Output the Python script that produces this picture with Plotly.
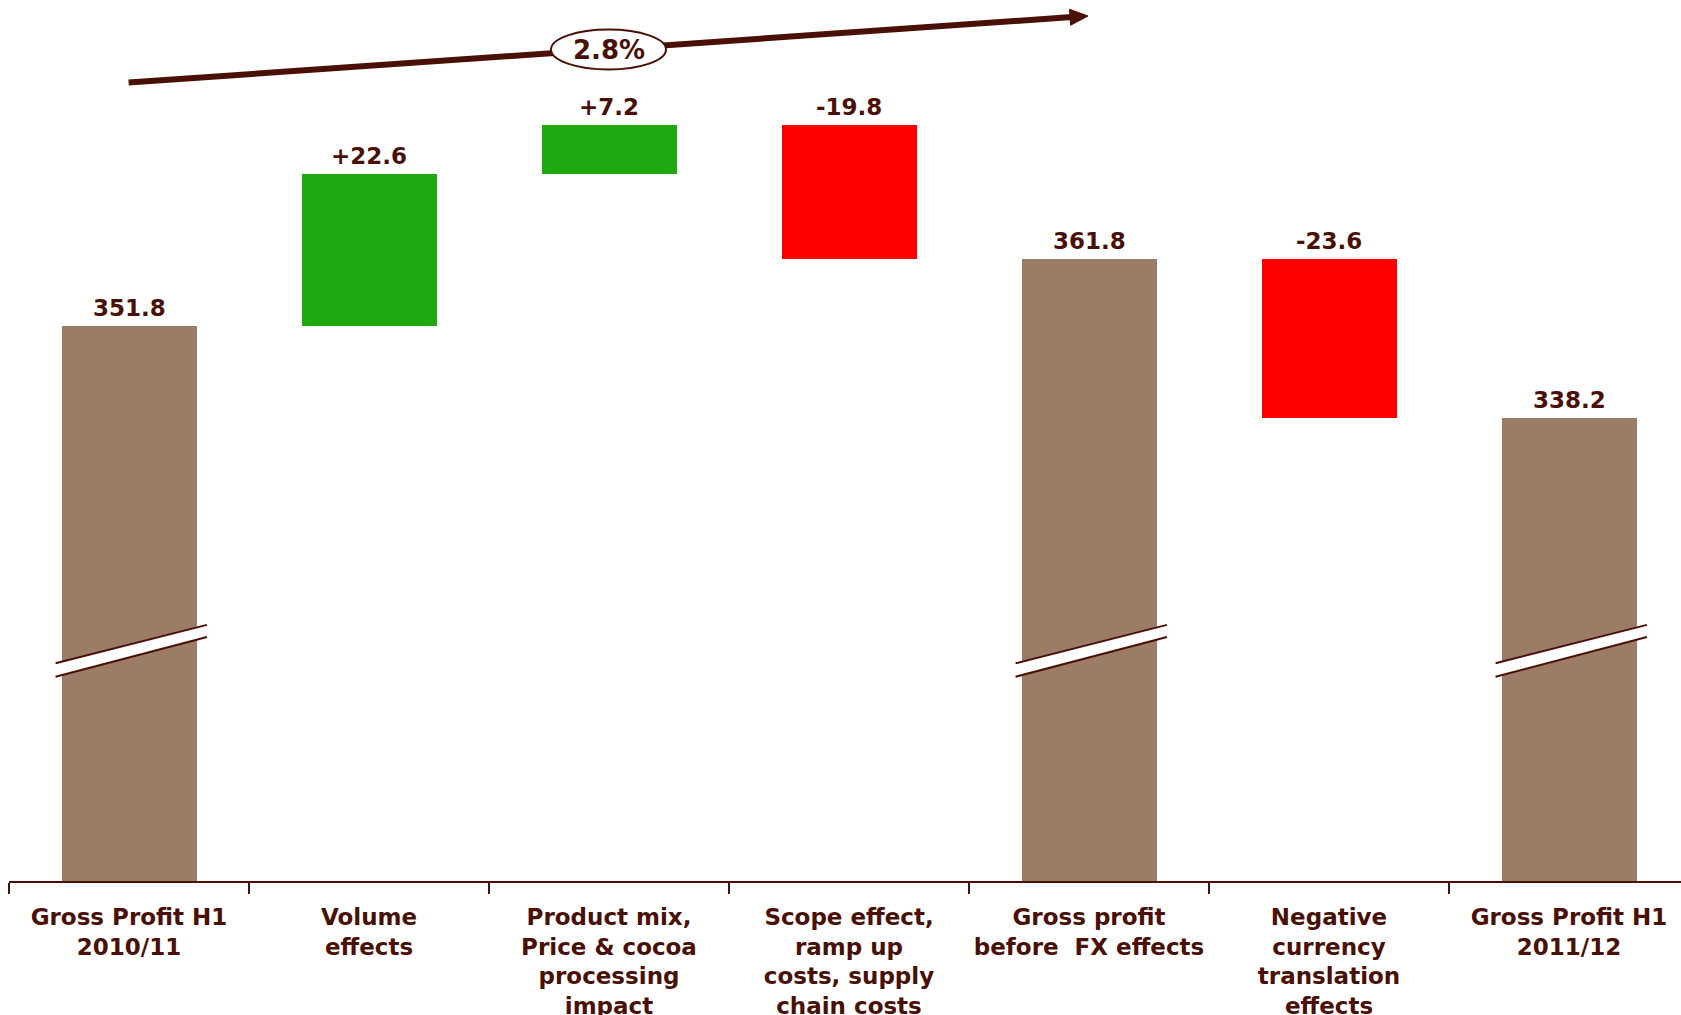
import math
import plotly.graph_objects as go

# ---------------- data ----------------
categories = [
    "Gross Profit H1<br>2010/11",
    "Volume<br>effects",
    "Product mix,<br>Price & cocoa<br>processing<br>impact",
    "Scope effect,<br>ramp up<br>costs, supply<br>chain costs",
    "Gross profit<br>before\u00a0 FX effects",
    "Negative<br>currency<br>translation<br>effects",
    "Gross Profit H1<br>2011/12",
]
values = [351.8, 22.6, 7.2, -19.8, 361.8, -23.6, 338.2]
measures = ["absolute", "relative", "relative", "relative", "total", "relative", "total"]
growth_label = "2.8%"

# ---------------- style ----------------
BROWN = "#9b7d67"
GREEN = "#1fa80f"
RED = "#ff0000"
DARK = "#4a1005"
FONT = "DejaVu Sans"

W, H = 1681, 1015
ML, MR, MT, MB = 9, 0, 0, 134
PW, PH = W - ML - MR, H - MT - MB
CAT_PX = 240.0
Y0, Y1 = 269.5, 400.2
BAR_W = 0.5625

# ---------------- build bars ----------------
bases, heights, colors, texts, tops = [], [], [], [], []
running = 0.0
for v, m in zip(values, measures):
    if m in ("absolute", "total"):
        bases.append(0.0)
        heights.append(v)
        colors.append(BROWN)
        texts.append(f"{v:.1f}")
        running = v
    elif v >= 0:
        bases.append(running)
        heights.append(v)
        colors.append(GREEN)
        texts.append(f"+{v:.1f}")
        running += v
    else:
        bases.append(running + v)
        heights.append(-v)
        colors.append(RED)
        texts.append(f"{v:.1f}")
        running += v
    tops.append(bases[-1] + heights[-1])

xs = list(range(len(categories)))

fig = go.Figure()
fig.add_trace(go.Bar(
    x=xs, y=heights, base=bases, width=BAR_W,
    marker=dict(color=colors, line=dict(width=0)),
    hoverinfo="skip",
))


def X(px):
    return (px - ML) / PW


def Y(py):
    return (MT + PH - py) / PH


shapes = []
# axis-break marks on the total bars
for i, m in enumerate(measures):
    if m in ("absolute", "total"):
        xl, xr = i - 0.306, i + 0.325
        lo_l, lo_r, hi_l, hi_r = 299.8, 305.7, 301.8, 307.5
        shapes.append(dict(type="path", xref="x", yref="y",
                           path=f"M {xl},{lo_l} L {xr},{lo_r} L {xr},{hi_r} L {xl},{hi_l} Z",
                           fillcolor="white", line=dict(width=0)))
        shapes.append(dict(type="line", xref="x", yref="y", x0=xl, y0=lo_l, x1=xr, y1=lo_r,
                           line=dict(color=DARK, width=2)))
        shapes.append(dict(type="line", xref="x", yref="y", x0=xl, y0=hi_l, x1=xr, y1=hi_r,
                           line=dict(color=DARK, width=2)))

# growth arrow (pixel geometry)
tail = (128.6, 82.5)
tip = (1088.0, 16.0)
dx, dy = tip[0] - tail[0], tip[1] - tail[1]
ln = math.hypot(dx, dy)
ux, uy = dx / ln, dy / ln
nx, ny = -uy, ux
L, HW = 18, 8
bx, by = tip[0] - L * ux, tip[1] - L * uy
shapes.append(dict(type="line", xref="paper", yref="paper",
                   x0=X(tail[0]), y0=Y(tail[1]), x1=X(bx + 2 * ux), y1=Y(by + 2 * uy),
                   line=dict(color=DARK, width=6)))
p1 = (bx + HW * nx, by + HW * ny)
p2 = (bx - HW * nx, by - HW * ny)
shapes.append(dict(type="path", xref="paper", yref="paper",
                   path=f"M {X(tip[0])},{Y(tip[1])} L {X(p1[0])},{Y(p1[1])} L {X(p2[0])},{Y(p2[1])} Z",
                   fillcolor=DARK, line=dict(color=DARK, width=1)))
# ellipse
ecx, ecy, ew, eh = 608.5, 49.5, 115, 40
shapes.append(dict(type="circle", xref="paper", yref="paper",
                   x0=X(ecx - ew / 2), x1=X(ecx + ew / 2),
                   y0=Y(ecy + eh / 2), y1=Y(ecy - eh / 2),
                   fillcolor="white", line=dict(color=DARK, width=2)))

annotations = [dict(xref="paper", yref="paper", x=X(ecx), y=Y(ecy), text=f"<b>{growth_label}</b>",
                    showarrow=False, xanchor="center", yanchor="middle",
                    font=dict(family=FONT, size=26, color=DARK))]
for x, t, top in zip(xs, texts, tops):
    annotations.append(dict(xref="x", yref="y", x=x, y=top, text=f"<b>{t}</b>",
                            showarrow=False, xanchor="center", yanchor="bottom", yshift=3,
                            font=dict(family=FONT, size=23, color=DARK)))

fig.update_layout(
    width=W, height=H,
    margin=dict(l=ML, r=MR, t=MT, b=MB, pad=0, autoexpand=False),
    paper_bgcolor="white", plot_bgcolor="white",
    showlegend=False,
    bargap=0,
    shapes=shapes,
    annotations=annotations,
    font=dict(family=FONT, color=DARK),
    xaxis=dict(
        range=[-0.5, -0.5 + PW / CAT_PX],
        tickmode="array", tickvals=xs,
        ticktext=[f"<b>{c}</b>" for c in categories],
        ticks="", showgrid=False, zeroline=False, automargin=False,
        showline=True, linecolor=DARK, linewidth=2,
        tickfont=dict(family=FONT, size=23, color=DARK),
        ticklabelstandoff=14,
        minor=dict(ticks="outside", tickmode="linear", tick0=-0.5, dtick=1,
                   ticklen=11, tickwidth=2, tickcolor=DARK, showgrid=False),
        fixedrange=True,
    ),
    yaxis=dict(range=[Y0, Y1], visible=False, showgrid=False, zeroline=False,
               automargin=False, fixedrange=True),
)

fig.write_html("out.html")
